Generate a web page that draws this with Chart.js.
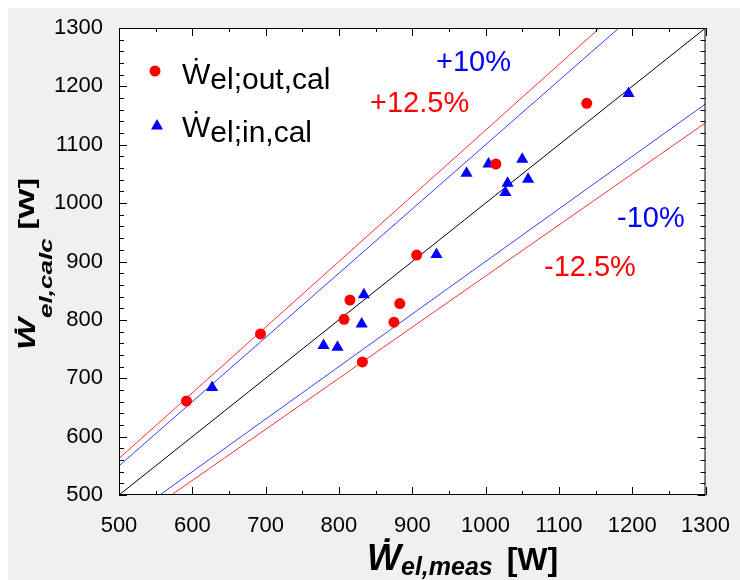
<!DOCTYPE html>
<html>
<head>
<meta charset="utf-8">
<script src="https://cdn.jsdelivr.net/npm/chart.js@4.4.1/dist/chart.umd.min.js"></script>
<style>
  body { margin: 0; background: #fff; }
  #wrap { width: 740px; height: 580px; }
</style>
</head>
<body>
<div id="wrap"><canvas id="chart" width="740" height="580"></canvas></div>
<script>
const outMeas = [592, 693, 815, 807, 883, 875, 832, 906, 1014, 1138];
const outCalc = [661, 776, 834, 801, 828, 796, 728, 911, 1067, 1171];
const inMeas = [627, 834, 831, 779, 798, 933, 974, 1004, 1050, 1030, 1058, 1027, 1195];
const inCalc = [684, 843, 793, 756, 753, 912, 1051, 1067, 1075, 1034, 1041, 1018, 1188];

// deviation lines y = f * x
const lineFactors = [1, 1.1, 0.9, 1.125, 0.875];
const lineColors = ["#000000", "#3c3cff", "#3c3cff", "#ff3030", "#ff3030"];
const lineEnds = [500, 1300];

const axisMin = 500;
const axisMax = 1300;
const majorStep = 100;
const xMinorStep = 50;
const yMinorStep = 20;

const labels = [
  { text: "+10%", color: "#0000ff", x: 436, y: 71 },
  { text: "+12.5%", color: "#ff0000", x: 370, y: 112 },
  { text: "-10%", color: "#0000ff", x: 617, y: 227 },
  { text: "-12.5%", color: "#ff0000", x: 544, y: 276 },
];

const FONT = "Arial, 'Liberation Sans', sans-serif";

const toPoints = (xs, ys) => xs.map((x, i) => ({ x: x, y: ys[i] }));

const drawRich = (ctx, x, y, parts) => {
  let cx = x;
  parts.forEach((p) => {
    ctx.font = p.font;
    ctx.fillText(p.text, cx, y + (p.dy || 0));
    cx += ctx.measureText(p.text).width + (p.gap || 0);
  });
};

const backgroundPlugin = {
  id: "background",
  beforeDraw(chart) {
    const { ctx, chartArea: a } = chart;
    ctx.save();
    ctx.fillStyle = "#ffffff";
    ctx.fillRect(0, 0, chart.width, chart.height);
    ctx.fillStyle = "#f0f0f0";
    ctx.fillRect(8, 8, chart.width - 8, chart.height - 8);
    ctx.fillStyle = "#ffffff";
    ctx.fillRect(a.left, a.top, a.right - a.left, a.bottom - a.top);
    ctx.restore();
  },
};

const framePlugin = {
  id: "frame",
  afterDatasetsDraw(chart) {
    const { ctx, chartArea: a, scales } = chart;
    ctx.save();
    ctx.strokeStyle = "#000";
    ctx.lineWidth = 1;
    ctx.beginPath();
    for (let v = axisMin; v <= axisMax; v += xMinorStep) {
      const px = Math.round(scales.x.getPixelForValue(v)) + 0.5;
      const len = v % majorStep === 0 ? 8 : 4;
      ctx.moveTo(px, a.bottom);
      ctx.lineTo(px, a.bottom - len);
      ctx.moveTo(px, a.top);
      ctx.lineTo(px, a.top + len);
    }
    for (let v = axisMin; v <= axisMax; v += yMinorStep) {
      const py = Math.round(scales.y.getPixelForValue(v)) + 0.5;
      const len = v % majorStep === 0 ? 8 : 5;
      ctx.moveTo(a.left, py);
      ctx.lineTo(a.left + len, py);
      ctx.moveTo(a.right, py);
      ctx.lineTo(a.right - len, py);
    }
    ctx.stroke();
    ctx.strokeRect(a.left + 0.5, a.top + 0.5, a.right - a.left - 1, a.bottom - a.top - 1);
    ctx.restore();
  },
};

const textPlugin = {
  id: "texts",
  afterDraw(chart) {
    const ctx = chart.ctx;
    ctx.save();
    ctx.textBaseline = "alphabetic";
    ctx.textAlign = "left";

    // percentage labels
    ctx.font = "29px " + FONT;
    labels.forEach((l) => {
      ctx.fillStyle = l.color;
      ctx.fillText(l.text, l.x, l.y);
    });

    // legend
    ctx.fillStyle = "#ff0000";
    ctx.beginPath();
    ctx.arc(155, 71, 5.5, 0, Math.PI * 2);
    ctx.fill();
    ctx.fillStyle = "#0000ff";
    ctx.beginPath();
    ctx.moveTo(157, 119);
    ctx.lineTo(163, 129.5);
    ctx.lineTo(151, 129.5);
    ctx.closePath();
    ctx.fill();
    ctx.fillStyle = "#000";
    drawRich(ctx, 182, 84, [
      { text: "Ẇ", font: "30px " + FONT },
      { text: "el;out,cal", font: "30px " + FONT, dy: 5 },
    ]);
    drawRich(ctx, 182, 137, [
      { text: "Ẇ", font: "30px " + FONT },
      { text: "el;in,cal", font: "30px " + FONT, dy: 5 },
    ]);

    // x axis title
    drawRich(ctx, 367, 570, [
      { text: "Ẇ", font: "bold italic 36px " + FONT },
      { text: "el,meas", font: "bold italic 25px " + FONT, dy: 5, gap: 14 },
      { text: "[W]", font: "bold 32px " + FONT },
    ]);

    // y axis title
    ctx.translate(35, 350);
    ctx.rotate(-Math.PI / 2);
    ctx.scale(1, 0.7);
    drawRich(ctx, 0, 0, [
      { text: "Ẇ", font: "bold italic 34px " + FONT },
      { text: "el,calc", font: "bold italic 26px " + FONT, dy: 24, gap: 9 },
      { text: "[W]", font: "bold 32px " + FONT, dy: -2 },
    ]);
    ctx.restore();
  },
};

const lineSets = lineFactors.map((f, i) => ({
  type: "line",
  data: lineEnds.map((x) => ({ x: x, y: x * f })),
  borderColor: lineColors[i],
  borderWidth: 1,
  pointRadius: 0,
  fill: false,
  order: 10 + i,
}));

const plainTick = (v) => String(v);

new Chart(document.getElementById("chart"), {
  type: "scatter",
  data: {
    datasets: [
      {
        label: "el;out,cal",
        data: toPoints(outMeas, outCalc),
        backgroundColor: "#ff0000",
        pointStyle: "circle",
        pointRadius: 5.5,
        pointBorderWidth: 0,
        order: 0,
      },
      {
        label: "el;in,cal",
        data: toPoints(inMeas, inCalc),
        backgroundColor: "#0000ff",
        pointStyle: "triangle",
        pointRadius: 7,
        pointBorderWidth: 0,
        order: 1,
      },
      ...lineSets,
    ],
  },
  options: {
    responsive: false,
    animation: false,
    devicePixelRatio: 1,
    layout: { padding: { left: 0, top: 28, right: 27, bottom: 0 } },
    plugins: {
      legend: { display: false },
      tooltip: { enabled: false },
    },
    scales: {
      x: {
        type: "linear",
        min: axisMin,
        max: axisMax,
        grid: { display: false },
        border: { display: false },
        ticks: {
          stepSize: majorStep,
          color: "#000",
          font: { family: FONT, size: 22 },
          padding: 10,
          maxRotation: 0,
          callback: plainTick,
        },
        afterFit: (s) => { s.height = 85; },
      },
      y: {
        type: "linear",
        min: axisMin,
        max: axisMax,
        grid: { display: false },
        border: { display: false },
        ticks: {
          stepSize: majorStep,
          color: "#000",
          font: { family: FONT, size: 22 },
          padding: 8,
          callback: plainTick,
        },
        afterFit: (s) => { s.width = 119; },
      },
    },
  },
  plugins: [backgroundPlugin, framePlugin, textPlugin],
});
</script>
</body>
</html>
